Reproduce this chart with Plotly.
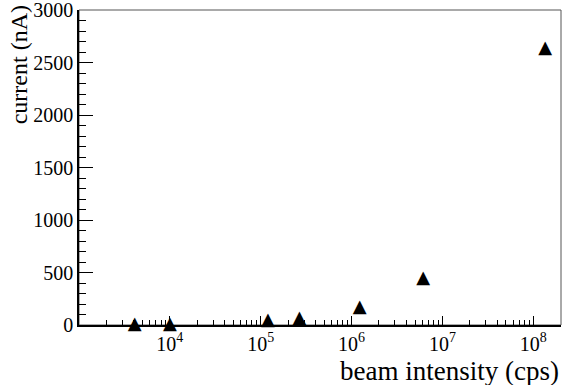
import plotly.graph_objects as go

# data
beam_intensity_cps = [4.1e3, 1.0e4, 1.2e5, 2.67e5, 1.23e6, 6.14e6, 1.35e8]
current_nA = [2, 3, 45, 62, 170, 445, 2635]
x_tick_vals = [1e4, 1e5, 1e6, 1e7, 1e8]
x_tick_text = ["10<sup>4</sup>", "10<sup>5</sup>", "10<sup>6</sup>", "10<sup>7</sup>", "10<sup>8</sup>"]
y_tick_vals = [0, 500, 1000, 1500, 2000, 2500, 3000]
x_title = "beam intensity (cps)"
y_title = "current (nA)"

FONT = "Liberation Serif, Times New Roman, serif"

fig = go.Figure()
fig.add_trace(go.Scatter(
    x=beam_intensity_cps, y=current_nA, mode="text",
    text=["\u25B2"] * len(current_nA), textposition="middle center",
    textfont=dict(family="DejaVu Sans", size=18, color="black"),
    showlegend=False, cliponaxis=False,
))

fig.update_layout(
    width=572, height=385,
    margin=dict(l=79, r=11, t=10, b=60, autoexpand=False),
    paper_bgcolor="white", plot_bgcolor="white",
    font=dict(family=FONT, color="black", size=19),
    shapes=[dict(type="rect", xref="paper", yref="paper", x0=0, x1=1, y0=0, y1=1,
                 line=dict(color="#555555", width=1), layer="below")],
    annotations=[
        dict(text=x_title, xref="paper", yref="paper", x=1.0, y=-0.146,
             xanchor="right", yanchor="middle", showarrow=False,
             font=dict(family=FONT, size=27, color="black")),
        dict(text=y_title, xref="paper", yref="paper", x=-0.125, y=1.022,
             xanchor="center", yanchor="top", textangle=-90, showarrow=False,
             font=dict(family=FONT, size=24, color="black")),
    ],
)

fig.update_xaxes(
    type="log", range=[3, 8.305], automargin=False,
    showgrid=False, zeroline=False,
    showline=True, linecolor="black", linewidth=1.5,
    ticks="inside", ticklen=9, tickwidth=1.2, tickcolor="black",
    tickvals=x_tick_vals, ticktext=x_tick_text,
    tickfont=dict(family=FONT, size=20),
    ticklabeloverflow="allow",
    minor=dict(ticks="inside", ticklen=5, tickwidth=1, tickcolor="black", dtick="D1", showgrid=False),
)
fig.update_yaxes(
    range=[0, 3000], automargin=False,
    showgrid=False, zeroline=False,
    showline=True, linecolor="black", linewidth=1.5,
    ticks="inside", ticklen=14, tickwidth=1.2, tickcolor="black",
    tickvals=y_tick_vals,
    tickfont=dict(family=FONT, size=20),
    ticklabeloverflow="allow",
    minor=dict(ticks="inside", ticklen=7, tickwidth=1, tickcolor="black", dtick=100, showgrid=False),
)

fig.write_html("out.html", config={"displayModeBar": False},
               post_script="document.body.style.margin='0px';")
